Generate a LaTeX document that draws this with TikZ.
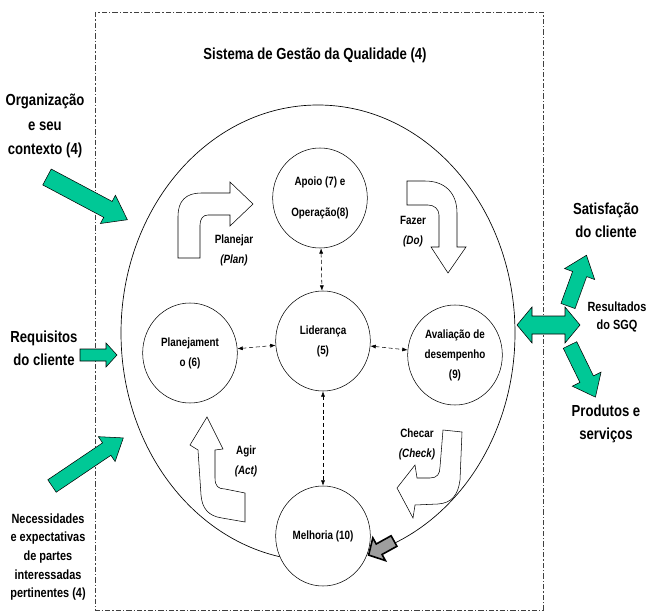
\documentclass[tikz,border=0pt]{standalone}
\usepackage{fontspec}
\setmainfont{Liberation Sans}[FakeStretch=0.82]
\usetikzlibrary{shapes.geometric,arrows.meta}
\definecolor{sgqgreen}{HTML}{00C896}

\tikzset{
  pics/fatarrow/.style args={#1/#2/#3/#4}{code={
    \path[pic actions] (0,-#2/2) -- (#1-#4,-#2/2) -- (#1-#4,-#3/2) -- (#1,0)
      -- (#1-#4,#3/2) -- (#1-#4,#2/2) -- (0,#2/2) -- cycle;
  }},
  pics/fatdouble/.style args={#1/#2/#3/#4}{code={
    \path[pic actions] (0,0) -- (#4,-#3/2) -- (#4,-#2/2) -- (#1-#4,-#2/2) -- (#1-#4,-#3/2)
      -- (#1,0) -- (#1-#4,#3/2) -- (#1-#4,#2/2) -- (#4,#2/2) -- (#4,#3/2) -- cycle;
  }},
}

\begin{document}
\begin{tikzpicture}[x=0.75pt, y=-0.75pt,
    procnode/.style={draw, ellipse, fill=white, minimum width=71pt, minimum height=75pt,
      inner sep=0pt, align=center, font=\fontsize{9}{15}\selectfont\bfseries},
    outlabel/.style={align=center, font=\fontsize{12}{17.5}\selectfont\bfseries},
    smalllabel/.style={align=center, font=\fontsize{10}{14}\selectfont\bfseries},
    cyclabel/.style={align=center, font=\fontsize{9}{15}\selectfont\bfseries},
    link/.style={densely dashed, {Latex[length=4pt,width=3pt]}-{Latex[length=4pt,width=3pt]}},
    greenarrow/.style={draw=black, line width=0.4pt, fill=sgqgreen},
    pdca/.style={draw=black, line width=0.4pt, fill=white},
    frame/.style={draw=black!75, line width=0.5pt, dash pattern=on 4pt off 1.5pt on 1pt off 1.5pt}]
    \useasboundingbox (0,0) rectangle (649,613);

    % moldura do sistema
    \draw[frame] (95,12) rectangle (543,610);
    \node[font=\fontsize{12}{14}\selectfont\bfseries] (titulo) at (315,55) {Sistema de Gestão da Qualidade (4)};

    % ciclo
    \node[draw, ellipse, line width=0.5pt, minimum width=295.5pt, minimum height=342pt, inner sep=0pt] (ciclo) at (318,333) {};

    \node[procnode, font=\fontsize{9}{23}\selectfont\bfseries] (apoio) at (320,198) {Apoio (7) e\\Operação(8)};
    \node[procnode] (lider) at (323,341) {Liderança\\(5)};
    \node[procnode] (plano) at (190,353) {Planejament\\o (6)};
    \node[procnode] (aval) at (455,355) {Avaliação de\\desempenho\\(9)};
    \node[procnode] (melhoria) at (323,536) {Melhoria (10)};

    \draw[link] (apoio) -- (lider);
    \draw[link] (lider) -- (melhoria);
    \draw[link] (plano) -- (lider);
    \draw[link] (lider) -- (aval);

    % setas PDCA
    \draw[pdca] (178,258) -- (178,216) .. controls (178,201) and (186,193) .. (201,193)
      -- (230,193) -- (230,182) -- (253,204) -- (230,226) -- (230,215) -- (208,215)
      .. controls (203,215) and (200,219) .. (200,225) -- (200,258) -- cycle;
    \draw[pdca] (407,181) -- (425,181) .. controls (445,181) and (457,193) .. (457,213)
      -- (457,247) -- (466,247) -- (448,273) -- (431,247) -- (439,247) -- (439,215)
      .. controls (439,209) and (434,205) .. (428,205) -- (407,205) -- cycle;
    \draw[pdca] (443,430) -- (462,432) -- (460,480) .. controls (458,495) and (452,503) .. (438,504)
      -- (415,505) -- (413,518) -- (397,488) -- (415,465) -- (417,478) -- (430,478)
      .. controls (437,478) and (440,474) .. (440,467) -- cycle;
    \draw[pdca] (207,417) -- (223,449) -- (215,450) -- (215,478)
      .. controls (215,486) and (218,489) .. (225,489) -- (245,493) -- (245,522) -- (222,518)
      .. controls (208,516) and (202,508) .. (201,495) -- (198,450) -- (190,445) -- cycle;

    \node[cyclabel] (planejar) at (234,250) {Planejar\\\textit{(Plan)}};
    \node[cyclabel] (fazer) at (413,232) {Fazer\\\textit{(Do)}};
    \node[cyclabel] (checar) at (417,444) {Checar\\\textit{(Check)}};
    \node[cyclabel] (agir) at (246,461) {Agir\\\textit{(Act)}};

    \pic[draw=black, line width=1.2pt, fill=black!38, rotate=-151] at (394,541) {fatarrow=29/12/26/12};

    % entradas
    \node[outlabel, font=\fontsize{12}{18.5}\selectfont\bfseries] (contexto) at (45,126) {Organização\\e seu\\contexto (4)};
    \node[outlabel] (requisitos) at (44,348) {Requisitos\\do cliente};
    \node[smalllabel] (partes) at (48,557) {Necessidades\\e expectativas\\de partes\\interessadas\\pertinentes (4)};

    \pic[greenarrow, rotate=-28] at (47,177) {fatarrow=91/18/32/22};
    \pic[greenarrow] at (80,355) {fatarrow=37/12/24/11};
    \pic[greenarrow, rotate=34] at (52,486) {fatarrow=86/15/30/20};

    % saidas
    \node[outlabel] (satisfacao) at (606,220) {Satisfação\\do cliente};
    \node[smalllabel, font=\fontsize{10}{13}\selectfont\bfseries] (resultados) at (617,317) {Resultados\\do SGQ};
    \node[outlabel] (produtos) at (606,424) {Produtos e\\serviços};

    \pic[greenarrow] at (517,325) {fatdouble=63/18/36/15};
    \pic[greenarrow, rotate=70] at (568,306) {fatarrow=54/15/32/20};
    \pic[greenarrow, rotate=-64] at (570,345) {fatarrow=58/15/32/20};
\end{tikzpicture}
\end{document}
